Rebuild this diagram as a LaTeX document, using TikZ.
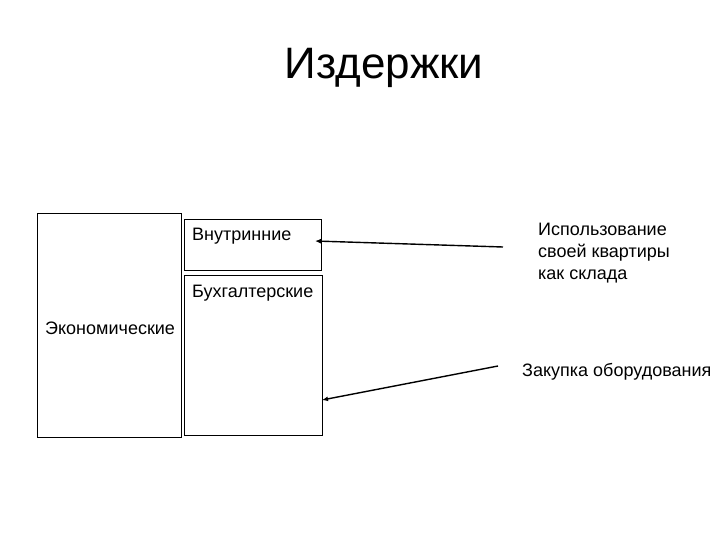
\documentclass[tikz,border=0pt]{standalone}
\usepackage{fontspec}
\setmainfont{Liberation Sans}
\usetikzlibrary{arrows.meta}
\begin{document}
\begin{tikzpicture}[x=1pt,y=-1pt,
  box/.style={draw,line width=0.8pt,inner sep=0pt},
  lbl/.style={font=\fontsize{18}{21}\selectfont,inner sep=0pt,anchor=west},
  arr/.style={-{Latex[length=6pt,width=5pt]},line width=1.4pt}]
\useasboundingbox (0,0) rectangle (720,540);
\node[font=\fontsize{44}{50}\selectfont,inner sep=0pt] (title) at (384,68) {Издержки};
\draw[box] (37,213) rectangle (181,437);
\draw[box] (184,219) rectangle (321,270);
\draw[box] (184,275) rectangle (322,435);
\node[lbl] (vn) at (192,236) {Внутринние};
\node[lbl] (bu) at (192,293) {Бухгалтерские};
\node[lbl] (ek) at (45,328) {Экономические};
\node[font=\fontsize{18}{22}\selectfont,align=left,inner sep=0pt,anchor=north west] (isp) at (538,223) {Использование\\своей квартиры\\как склада};
\node[lbl] (zak) at (522,372) {Закупка оборудования};
\coordinate (a1s) at (503,247);
\coordinate (a1e) at (315,241);
\coordinate (a2s) at (498,366);
\coordinate (a2e) at (322,400);
\draw[arr] (a1s) -- (a1e);
\draw[arr] (a2s) -- (a2e);
\end{tikzpicture}
\end{document}
